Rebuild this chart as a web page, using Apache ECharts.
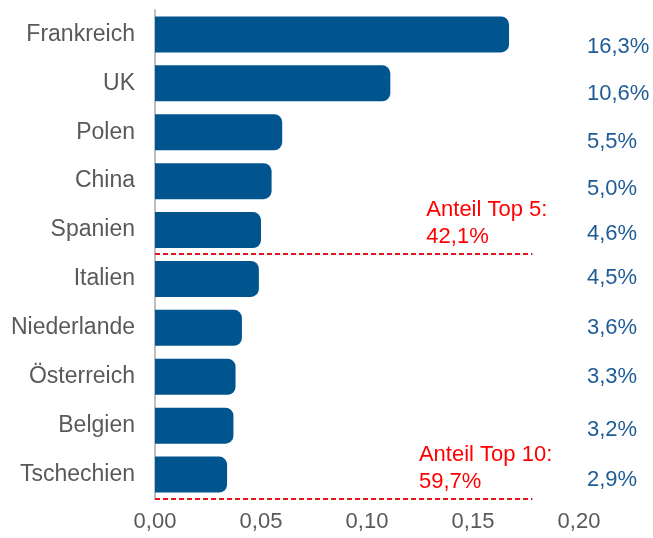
<!DOCTYPE html>
<html>
<head>
<meta charset="utf-8">
<script src="https://cdn.jsdelivr.net/npm/echarts@6/dist/echarts.min.js"></script>
<style>
html, body { margin: 0; padding: 0; background: #fff; }
#chart { width: 653px; height: 538px; }
</style>
</head>
<body>
<div id="chart"></div>
<script>
var categories = ['Frankreich', 'UK', 'Polen', 'China', 'Spanien', 'Italien', 'Niederlande', 'Österreich', 'Belgien', 'Tschechien'];
var barValues = [0.167, 0.111, 0.060, 0.055, 0.050, 0.049, 0.041, 0.038, 0.037, 0.034];
var shareLabels = ['16,3%', '10,6%', '5,5%', '5,0%', '4,6%', '4,5%', '3,6%', '3,3%', '3,2%', '2,9%'];
var xMin = 0, xMax = 0.20, xStep = 0.05;
// Anteil-Markierungen: Linie unter Kategorie "after"
var noteTexts = ['Anteil Top 5:\n42,1%', 'Anteil Top 10:\n59,7%'];
var noteAfter = [4, 9];
var noteX = [0.128, 0.1245];
var noteLineEnd = 0.178;
// vertikale Verschiebung der Prozent-Labels (px), wie im Original leicht versetzt
var shareShift = [12, 11, 10, 8, 4, -1, 0, 0, 4, 5];

var font = '"Liberation Sans", Arial, sans-serif';
var chart = echarts.init(document.getElementById('chart'));

var shareRich = {};
shareShift.forEach(function (s, i) {
	shareRich['s' + i] = {
		fontSize: 22,
		color: '#1f5c96',
		fontFamily: font,
		padding: s >= 0 ? [2 * s, 0, 0, 0] : [0, 0, -2 * s, 0]
	};
});

var option = {
	animation: false,
	grid: { left: 155, right: 74, top: 10, bottom: 39 },
	xAxis: {
		type: 'value',
		min: xMin,
		max: xMax,
		interval: xStep,
		splitLine: { show: false },
		axisLine: { show: false },
		axisTick: { show: false },
		axisLabel: {
			margin: 12,
			fontSize: 22,
			color: '#595959',
			fontFamily: font,
			formatter: function (v) { return v.toFixed(2).replace('.', ','); }
		}
	},
	yAxis: [{
		type: 'category',
		data: categories,
		inverse: true,
		axisLine: { show: true, lineStyle: { color: '#bfbfbf', width: 2 } },
		axisTick: { show: false },
		axisLabel: { margin: 20, fontSize: 23, color: '#595959', fontFamily: font }
	}, {
		type: 'category',
		data: shareLabels,
		inverse: true,
		position: 'right',
		axisLine: { show: false },
		axisTick: { show: false },
		axisLabel: {
			margin: 8,
			formatter: function (v, idx) { return '{s' + idx + '|' + v + '}'; },
			rich: shareRich
		}
	}],
	series: [{
		type: 'bar',
		data: barValues,
		barWidth: 36,
		itemStyle: { color: '#00558f', borderRadius: [0, 8, 8, 0] }
	}]
};
chart.setOption(option);

// Linien und Texte an Achsenpositionen ausrichten
var y0 = chart.convertToPixel({ yAxisIndex: 0 }, categories[0]);
var y1 = chart.convertToPixel({ yAxisIndex: 0 }, categories[1]);
var band = y1 - y0;
var xStart = chart.convertToPixel({ xAxisIndex: 0 }, 0);
var xEnd = chart.convertToPixel({ xAxisIndex: 0 }, noteLineEnd);
var elements = [];
for (var i = 0; i < noteTexts.length; i++) {
	var ly = Math.round(y0 + band * (noteAfter[i] + 0.5));
	elements.push({
		type: 'line',
		shape: { x1: xStart, y1: ly, x2: xEnd, y2: ly },
		style: { stroke: '#e3141e', lineWidth: 2, lineDash: [5, 3] },
		z: 10
	});
	elements.push({
		type: 'text',
		x: chart.convertToPixel({ xAxisIndex: 0 }, noteX[i]),
		y: ly - 4,
		style: {
			text: noteTexts[i],
			fill: '#ff0000',
			font: '22px ' + font,
			lineHeight: 27,
			verticalAlign: 'bottom',
			align: 'left'
		},
		z: 10
	});
}
chart.setOption({ graphic: elements });
</script>
</body>
</html>
